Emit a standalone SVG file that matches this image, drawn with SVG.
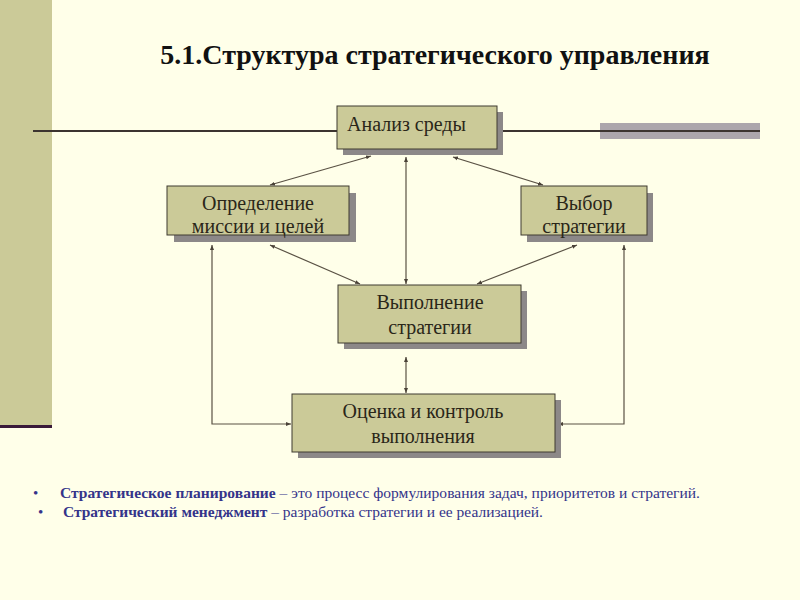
<svg xmlns="http://www.w3.org/2000/svg" width="800" height="600" viewBox="0 0 800 600">
<defs>
<marker id="ah" viewBox="0 0 10 10" refX="10" refY="5" markerWidth="5" markerHeight="5" orient="auto-start-reverse" markerUnits="userSpaceOnUse">
<path d="M0,1 L10,5 L0,9 z" fill="#4a4238"/>
</marker>
<style>
.box{fill:#cbca98;stroke:#3e3a30;stroke-width:1}
.sh{fill:#8c8888}
.t{font-family:"Liberation Serif","Times New Roman",serif;font-size:20px;fill:#2a2618}
.c{stroke:#5a5244;stroke-width:1.2;fill:none}
.b{font-family:"Liberation Serif","Times New Roman",serif;font-size:15px;fill:#34348a}
</style>
</defs>
<rect width="800" height="600" fill="#ffffe9"/>
<rect x="0" y="0" width="52" height="425" fill="#cbca98"/>
<rect x="0" y="425" width="52" height="3" fill="#3a1a3a"/>
<rect x="600" y="123" width="160" height="16" fill="#aca6ac"/>
<line x1="33" y1="131" x2="760" y2="131" stroke="#3c3430" stroke-width="2"/>
<text x="435" y="64" text-anchor="middle" font-family="'Liberation Serif','Times New Roman',serif" font-weight="bold" font-size="28" fill="#111">5.1.Структура стратегического управления</text>
<g id="connectors">
<line class="c" x1="371" y1="156" x2="270" y2="185" marker-start="url(#ah)" marker-end="url(#ah)"/>
<line class="c" x1="453" y1="157" x2="543" y2="185" marker-start="url(#ah)" marker-end="url(#ah)"/>
<line class="c" x1="406" y1="157" x2="406" y2="284" marker-start="url(#ah)" marker-end="url(#ah)"/>
<line class="c" x1="270" y1="245" x2="360" y2="284" marker-start="url(#ah)" marker-end="url(#ah)"/>
<line class="c" x1="577" y1="245" x2="477" y2="284" marker-start="url(#ah)" marker-end="url(#ah)"/>
<line class="c" x1="406" y1="357" x2="406" y2="393" marker-start="url(#ah)" marker-end="url(#ah)"/>
<polyline class="c" points="212,245 212,424 291,424" marker-start="url(#ah)" marker-end="url(#ah)"/>
<polyline class="c" points="624,245 624,424 558,424" marker-start="url(#ah)" marker-end="url(#ah)"/>
</g>
<g id="analiz">
<rect class="sh" x="343" y="112" width="160" height="43"/>
<rect class="box" x="337" y="106" width="160" height="43"/>
<text class="t" x="347" y="131" font-size="18.5">Анализ среды</text>
</g>
<g id="opredelenie">
<rect class="sh" x="174" y="193" width="182" height="49"/>
<rect class="box" x="167" y="186" width="182" height="49"/>
<text class="t" x="258" y="210" text-anchor="middle">Определение</text>
<text class="t" x="258" y="233" text-anchor="middle">миссии и целей</text>
</g>
<g id="vybor">
<rect class="sh" x="527" y="193" width="126" height="49"/>
<rect class="box" x="521" y="186" width="126" height="49"/>
<text class="t" x="584" y="210" text-anchor="middle">Выбор</text>
<text class="t" x="584" y="233" text-anchor="middle">стратегии</text>
</g>
<g id="vypolnenie">
<rect class="sh" x="344" y="291" width="183" height="58"/>
<rect class="box" x="338" y="285" width="183" height="58"/>
<text class="t" x="430" y="309" text-anchor="middle">Выполнение</text>
<text class="t" x="430" y="334" text-anchor="middle">стратегии</text>
</g>
<g id="ocenka">
<rect class="sh" x="298" y="400" width="263" height="58"/>
<rect class="box" x="292" y="394" width="263" height="58"/>
<text class="t" x="423" y="418" text-anchor="middle">Оценка и контроль</text>
<text class="t" x="423" y="443" text-anchor="middle">выполнения</text>
</g>
<text class="b" x="33" y="498">•</text>
<text class="b" x="60" y="498" textLength="640" lengthAdjust="spacingAndGlyphs"><tspan font-weight="bold">Стратегическое планирование</tspan> – это процесс формулирования задач, приоритетов и стратегий.</text>
<text class="b" x="38" y="517">•</text>
<text class="b" x="63" y="517" textLength="480" lengthAdjust="spacingAndGlyphs"><tspan font-weight="bold">Стратегический менеджмент</tspan> – разработка стратегии и ее реализацией.</text>
</svg>
